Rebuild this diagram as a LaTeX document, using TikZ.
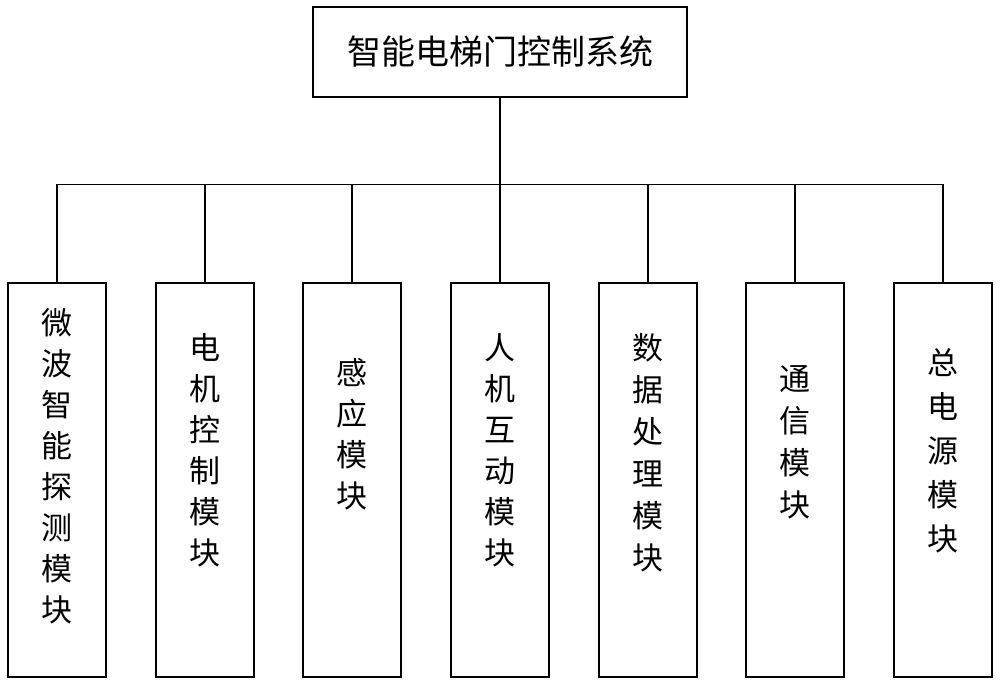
\documentclass[tikz,border=0pt]{standalone}
\usepackage{fontspec}
\newfontfamily\cjk{Noto Sans CJK SC}
\begin{document}
\begin{tikzpicture}[x=1pt,y=-1pt,line width=1.1pt,
  box/.style={draw,minimum width=98pt,minimum height=394pt,inner sep=0pt},
  vt/.style={anchor=north,align=center,font=\cjk\fontsize{31}{#1}\selectfont,inner sep=0pt}]
\useasboundingbox (0,0) rectangle (1000,684);
\node[draw,minimum width=374pt,minimum height=90pt,font=\cjk\fontsize{34}{38}\selectfont] (top) at (500,52) {智能电梯门控制系统};
\foreach \n/\x in {1/57,2/205,3/352,4/500,5/648,6/795,7/943}
  \node[box] (b\n) at (\x,480) {};
\node[vt=41] (t1) at (57,308) {微\\波\\智\\能\\探\\测\\模\\块};
\node[vt=41] (t2) at (205,333) {电\\机\\控\\制\\模\\块};
\node[vt=41] (t3) at (352,358) {感\\应\\模\\块};
\node[vt=41] (t4) at (500,333) {人\\机\\互\\动\\模\\块};
\node[vt=42] (t5) at (648,333) {数\\据\\处\\理\\模\\块};
\node[vt=42] (t6) at (795,365) {通\\信\\模\\块};
\node[vt=44] (t7) at (943,348) {总\\电\\源\\模\\块};
\draw (top.south) -- ++(0,87) coordinate (bus);
\draw (b1.north) -- (b1.north |- bus) -- (b7.north |- bus) -- (b7.north);
\foreach \n in {2,...,6} \draw (b\n.north) -- (b\n.north |- bus);
\end{tikzpicture}
\end{document}
